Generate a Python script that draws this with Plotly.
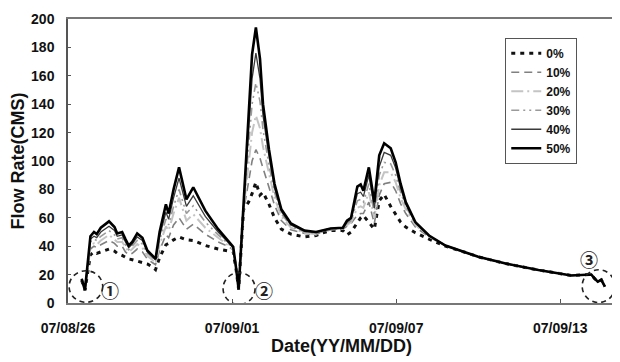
import pandas as pd
import plotly.graph_objects as go

# time knots, in days from 2007-08-26 00:00
days = [0.50, 0.62, 0.82, 0.95, 1.05, 1.20, 1.50, 1.70, 1.80, 1.98,
        2.10, 2.22, 2.35, 2.53, 2.72, 2.90, 3.08, 3.20, 3.35, 3.58,
        3.68, 3.86, 4.06, 4.33, 4.58, 5.02, 5.49, 5.85, 6.04, 6.15,
        6.24, 6.42, 6.60, 6.73, 6.87, 7.02, 7.13, 7.35, 7.55, 7.80,
        8.15, 8.65, 9.07, 9.25, 9.60, 10.05, 10.20, 10.35, 10.58, 10.70,
        10.80, 11.00, 11.20, 11.38, 11.56, 11.80, 11.98, 12.16, 12.35, 12.70,
        13.20, 13.80, 14.55, 15.00, 16.00, 17.20, 18.40, 19.00, 19.13, 19.25,
        19.37, 19.50, 19.63]

flow_0 = [16, 9, 34, 36, 35, 36, 38, 36.5, 35, 33.5,
          32, 31, 30.5, 29.5, 28.5, 27.5, 25.5, 23.5, 32, 41,
          42, 44.5, 46.5, 44.5, 44, 40.5, 38, 37, 36, 23,
          9.5, 66, 71, 77, 85, 76, 78, 69.5, 60, 52,
          48.5, 46.5, 47.5, 49, 51, 51, 48, 50, 57, 60,
          61.6, 57, 52, 72, 76.5, 68, 62, 57, 53.5, 49.5,
          45, 40, 35.5, 32.5, 27.8, 23.2, 19.4, 19.7, 20.1, 17.3,
          15, 16.3, 11.5]
flow_10 = [17, 9, 38, 40, 39, 41, 44, 42, 40, 40,
           36, 34, 35, 38, 36, 31, 28.5, 27, 37, 48,
           46, 55, 60, 52, 55.5, 48.5, 43, 40, 37.5, 24,
           9.5, 65, 85, 100, 108, 102, 95, 82, 69, 58,
           51.5, 49, 48, 50, 51.5, 52, 54, 56, 62, 63,
           63, 71, 56, 76, 84, 85, 79, 70, 63, 53.5,
           46.5, 40.5, 35.5, 32.5, 27.8, 23.2, 19.4, 19.7, 20.1, 17.3,
           15, 16.3, 11.5]
flow_20 = [17, 9, 41, 42, 41, 44, 48, 45, 43, 43,
           39, 36, 38, 41.5, 39, 33, 30.5, 28, 41, 54,
           51, 63, 74, 58, 62.5, 53, 46, 41, 38, 24,
           9.5, 66, 96, 120, 132, 123, 110, 90, 74, 61,
           53, 49.5, 48.5, 50.5, 52, 52.5, 55, 57, 67, 68,
           67, 78, 60, 83, 92, 92, 85, 74, 66, 55,
           47, 40.5, 35.5, 32.5, 27.8, 23.2, 19.4, 19.7, 20.1, 17.3,
           15, 16.3, 11.5]
flow_30 = [17, 9, 43, 45, 44, 47, 51, 48, 45, 46,
           41, 37.5, 40, 44, 41.5, 35, 32, 29.5, 44, 59,
           55, 68, 80, 63, 68.5, 57, 48, 42, 38.5, 24,
           9.5, 67, 110, 140, 155, 142, 122, 97, 78, 63,
           54, 50, 49, 50.5, 52, 52.5, 56, 58, 72, 73,
           71, 84, 63, 90, 99, 98, 90, 78, 68, 56,
           47, 40.5, 35.5, 32.5, 27.8, 23.2, 19.4, 19.7, 20.1, 17.3,
           15, 16.3, 11.5]
flow_40 = [17, 9, 45, 47, 46, 50, 54, 51, 47, 48,
           43, 39, 41.5, 46.5, 44, 36, 33, 30.5, 47, 64,
           59, 74, 88, 68, 75.5, 61, 50, 43, 39, 24,
           9.5, 68, 122, 158, 176, 158, 132, 103, 81, 64.5,
           55, 50.5, 49.5, 51, 52.5, 53, 57, 59, 77, 78,
           75, 90, 67, 96, 106, 104, 95, 81, 69.5, 56.5,
           47.5, 40.5, 35.5, 32.5, 27.8, 23.2, 19.4, 19.7, 20.1, 17.3,
           15, 16.3, 11.5]
flow_50 = [17, 9, 47, 50, 48.5, 53, 57.5, 53.5, 49, 50,
           45, 40.5, 43, 49, 46, 37, 33.5, 31, 50, 69.5,
           63, 80, 95.5, 73, 81.5, 65, 52, 44, 39.5, 24,
           9.5, 70, 135, 175, 194, 172, 140, 108, 84, 66,
           56, 51, 50, 51, 52.5, 53, 58, 60, 82, 83.5,
           79, 95.5, 71, 104, 112.5, 109, 99, 84, 71, 57,
           47.5, 40.5, 35.5, 32.5, 27.8, 23.2, 19.4, 19.7, 20.1, 17.3,
           15, 16.3, 11.5]

series_names = ["0%", "10%", "20%", "30%", "40%", "50%"]
series_values = [flow_0, flow_10, flow_20, flow_30, flow_40, flow_50]
tick_dates = ["2007-08-26", "2007-09-01", "2007-09-07", "2007-09-13"]
tick_labels = ["07/08/26", "07/09/01", "07/09/07", "07/09/13"]

styles = [
    dict(color="#111111", width=3.0, dash="4px,5px"),
    dict(color="#808080", width=1.6, dash="8px,5px"),
    dict(color="#c4c4c4", width=2.0, dash="12px,4px,2px,4px"),
    dict(color="#9a9a9a", width=1.6, dash="8px,4px,2px,4px,2px,4px"),
    dict(color="#3a3a3a", width=1.3, dash="solid"),
    dict(color="#000000", width=2.6, dash="solid"),
]

start = pd.Timestamp("2007-08-26")
times = start + pd.to_timedelta(days, unit="D")

FONT = "Liberation Sans, Arial, sans-serif"
fig = go.Figure()
for name, vals, st in zip(series_names, series_values, styles):
    fig.add_trace(go.Scatter(x=times, y=vals, mode="lines", name=name,
                             line=st))

def d2t(d):
    return start + pd.Timedelta(days=d)

# dashed circles with labels
circles = [(0.04, 1.27, 0.5, 22.7, "①", 1.55, 9.5),
           (5.67, 6.84, -1.0, 21.3, "②", 7.15, 9.5),
           (18.80, 20.0, 0.3, 23.4, "③", 19.05, 31.0)]
for x0, x1, y0, y1, lab, lx, ly in circles:
    fig.add_shape(type="circle", xref="x", yref="y",
                  x0=d2t(x0), x1=d2t(x1), y0=y0, y1=y1,
                  line=dict(color="#222222", width=1.6, dash="5px,4px"))
    fig.add_annotation(x=d2t(lx), y=ly, text=lab, showarrow=False,
                       font=dict(family="Noto Sans CJK JP", size=18,
                                 color="#222222", weight="bold"))

# the page body adds an 8px offset, so the figure is 8px smaller
fig.update_layout(
    width=612, height=354,
    margin=dict(l=60, r=3, t=7, b=59),
    paper_bgcolor="white", plot_bgcolor="white",
    font=dict(family=FONT, size=14, color="#111111"),
    showlegend=True,
    legend=dict(x=0.931, y=0.934, xanchor="right", yanchor="top",
                bgcolor="white", bordercolor="#555555", borderwidth=1,
                font=dict(family=FONT, size=12, color="#111111", weight="bold"),
                tracegroupgap=0, itemwidth=30),
)
fig.update_xaxes(
    range=[start, d2t(20.0)],
    tickvals=pd.to_datetime(tick_dates), ticktext=tick_labels,
    ticks="inside", ticklen=4, tickcolor="#555555",
    tickfont=dict(family=FONT, size=14, weight="bold"),
    ticklabelstandoff=11,
    showgrid=False, zeroline=False,
    showline=True, linecolor="#777777", linewidth=1.5, mirror=True,
    title=dict(text="Date(YY/MM/DD)", standoff=4,
               font=dict(family=FONT, size=18, weight="bold")),
)
fig.update_yaxes(
    range=[0, 200], dtick=20, tick0=0,
    ticks="inside", ticklen=3, tickcolor="#555555",
    tickfont=dict(family=FONT, size=14, weight="bold"),
    ticklabelstandoff=9, ticklabeloverflow="allow",
    showgrid=False, zeroline=False,
    showline=True, linecolor="#555555", linewidth=1.5, mirror=True,
    title=dict(text="Flow Rate(CMS)", standoff=2,
               font=dict(family=FONT, size=18, weight="bold")),
)

fig.write_html("out.html")
